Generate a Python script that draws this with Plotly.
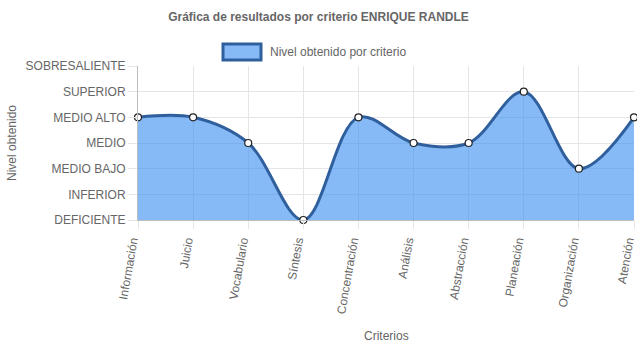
import plotly.graph_objects as go

categories = ["Información", "Juicio", "Vocabulario", "Síntesis", "Concentración",
              "Análisis", "Abstracción", "Planeación", "Organización", "Atención"]
values = [4, 4, 3, 0, 4, 3, 3, 5, 2, 4]
level_vals = [0, 1, 2, 3, 4, 5, 6]
level_text = ["DEFICIENTE", "INFERIOR", "MEDIO BAJO", "MEDIO", "MEDIO ALTO", "SUPERIOR", "SOBRESALIENTE"]

FONT = "Liberation Sans, Arial, Helvetica, sans-serif"
GRID = "#e5e5e5"
TXT = "#666666"
LINE = "#2f5f9c"
FILL = "rgba(54,140,240,0.6)"

fig = go.Figure()
fig.add_trace(go.Scatter(
    x=categories, y=values, mode="lines+markers",
    line=dict(color=LINE, width=3, shape="spline", smoothing=1.0),
    fill="tozeroy", fillcolor=FILL,
    marker=dict(size=7, color="white", line=dict(color="#222222", width=1.2)),
    cliponaxis=False, showlegend=False, name="Nivel obtenido por criterio",
))

fig.update_layout(
    width=637, height=348,
    margin=dict(l=138, r=3, t=66, b=128),
    paper_bgcolor="white", plot_bgcolor="white",
    font=dict(family=FONT, size=12, color=TXT),
    title=dict(text="<b>Gráfica de resultados por criterio ENRIQUE RANDLE</b>",
               x=0.5, xanchor="center", y=1 - 17 / 348, yanchor="middle",
               font=dict(size=12, color=TXT, family=FONT)),
    showlegend=False,
)
fig.update_xaxes(
    type="category", range=[0, 9], showgrid=True, gridcolor=GRID, automargin=False,
    ticks="outside", ticklen=8, tickcolor=GRID, tickangle=-80, ticklabelshift=-6,
    showline=True, linecolor="#bdbdbd", linewidth=1, zeroline=False,
    tickfont=dict(size=12, color=TXT, family=FONT),
)
fig.update_yaxes(
    range=[0, 6], tickmode="array", tickvals=level_vals, ticktext=level_text, automargin=False,
    showgrid=True, gridcolor=GRID, ticks="outside", ticklen=9, tickcolor=GRID,
    showline=True, linecolor="#bdbdbd", linewidth=1, zeroline=False,
    tickfont=dict(size=12, color=TXT, family=FONT),
)

# legend box
fig.add_shape(type="rect", xref="paper", yref="paper",
              x0=(223 - 138) / 496, x1=(261 - 138) / 496,
              y0=(348 - 128 - 60) / 154 - 0, y1=(348 - 128 - 44) / 154,
              fillcolor="rgba(54,140,240,0.6)", line=dict(color=LINE, width=3))
fig.add_annotation(xref="paper", yref="paper", x=(268 - 138) / 496, y=(348 - 128 - 52) / 154,
                   xanchor="left", yanchor="middle", showarrow=False,
                   text="Nivel obtenido por criterio", font=dict(size=12, color=TXT, family=FONT))
# axis titles
fig.add_annotation(xref="paper", yref="paper", x=(386 - 138) / 496, y=(348 - 128 - 336) / 154,
                   xanchor="center", yanchor="middle", showarrow=False,
                   text="Criterios", font=dict(size=12, color=TXT, family=FONT))
fig.add_annotation(xref="paper", yref="paper", x=(12 - 138) / 496, y=(348 - 128 - 143) / 154,
                   xanchor="center", yanchor="middle", showarrow=False, textangle=-90,
                   text="Nivel obtenido", font=dict(size=12, color=TXT, family=FONT))

fig.write_html("out.html")
